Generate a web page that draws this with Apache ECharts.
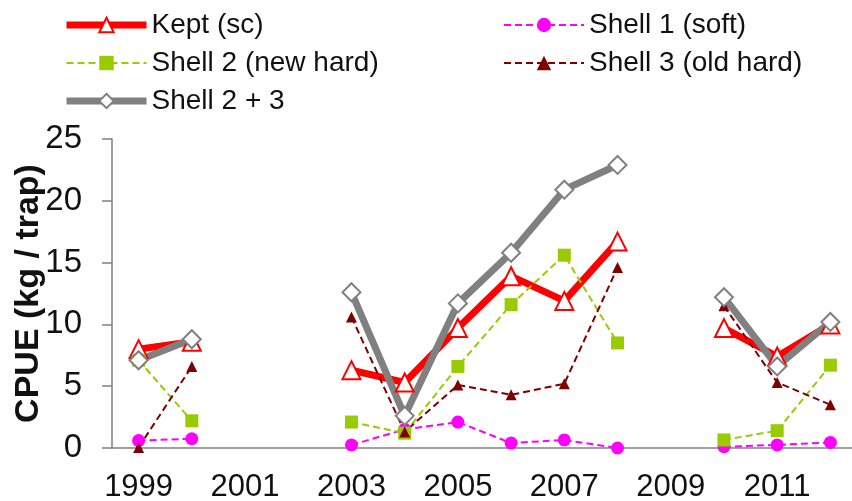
<!DOCTYPE html>
<html>
<head>
<meta charset="utf-8">
</head>
<body style="margin:0">
<div id="container" style="width:852px;height:501px;"></div>
<script src="https://cdn.jsdelivr.net/npm/echarts@6/dist/echarts.min.js"></script>
<script>
// years on the category axis, null = no survey that year
const years = ['1999','2000','2001','2002','2003','2004','2005','2006','2007','2008','2009','2010','2011','2012'];
const kept     = [8.0, 8.6, null, null, 6.3, 5.3, 9.7, 13.9, 11.9, 16.7, null, 9.7, 7.4, 10.0];
const shell1   = [0.6, 0.75, null, null, 0.25, 1.5, 2.1, 0.4, 0.65, 0.0, null, 0.1, 0.25, 0.45];
const shell2   = [7.1, 2.2, null, null, 2.1, 1.2, 6.6, 11.6, 15.6, 8.5, null, 0.65, 1.4, 6.7];
const shell3   = [0.05, 6.6, null, null, 10.6, 1.3, 5.1, 4.3, 5.2, 14.6, null, 11.5, 5.3, 3.5];
const shell23  = [7.1, 8.8, null, null, 12.6, 2.6, 11.7, 15.8, 20.9, 22.9, null, 12.2, 6.6, 10.2];

const font = 'Liberation Sans, Arial, sans-serif';
const chart = echarts.init(document.getElementById('container'));

function dashed(name, data, color, symbol, size) {
    return {
        name: name, type: 'line', data: data,
        symbol: symbol, symbolSize: size,
        lineStyle: { color: color, width: 2, type: [7, 4] },
        itemStyle: { color: color },
        animation: false
    };
}

const legendText = { fontFamily: font, fontSize: 28, color: '#111', lineHeight: 28 };
const thick = { width: 7 };
const thin = { width: 2 };

const option = {
    legend: [
        {
            left: 63, top: 11, orient: 'vertical', padding: 0,
            itemWidth: 80, itemHeight: 18, itemGap: 10,
            textStyle: legendText,
            data: [
                { name: 'Kept (sc)', lineStyle: thick },
                { name: 'Shell 2 (new hard)', lineStyle: thin },
                { name: 'Shell 2 + 3', lineStyle: thick }
            ]
        },
        {
            left: 503, top: 11, orient: 'vertical', padding: 0,
            itemWidth: 80, itemHeight: 18, itemGap: 10,
            textStyle: legendText,
            data: [
                { name: 'Shell 1 (soft)', lineStyle: thin },
                { name: 'Shell 3 (old hard)', lineStyle: thin }
            ]
        }
    ],
    grid: { left: 112, right: -5, top: 139, bottom: 53, outerBoundsMode: 'none', containLabel: false },
    xAxis: {
        type: 'category', data: years, boundaryGap: true,
        axisLine: { lineStyle: { color: '#808080', width: 1.5 } },
        axisTick: { length: 8, lineStyle: { color: '#808080', width: 1.5 } },
        axisLabel: { interval: 1, margin: 24, fontFamily: font, fontSize: 31, color: '#111' }
    },
    yAxis: {
        type: 'value', min: 0, max: 25, interval: 5,
        name: 'CPUE (kg / trap)', nameLocation: 'middle', nameGap: 66, nameRotate: 90,
        nameMoveOverlap: false,
        nameTextStyle: { fontFamily: font, fontSize: 34, fontWeight: 'bold', color: '#111' },
        splitLine: { show: false },
        axisLine: { show: true, lineStyle: { color: '#808080', width: 1.5 } },
        axisTick: { show: true, length: 10, lineStyle: { color: '#808080', width: 1.5 } },
        axisLabel: { margin: 30, fontFamily: font, fontSize: 33, color: '#111' }
    },
    series: [
        {
            name: 'Kept (sc)', type: 'line', data: kept,
            symbol: 'triangle', symbolSize: 18,
            lineStyle: { color: '#ff0000', width: 7 },
            itemStyle: { color: '#ffffff', borderColor: '#ff0000', borderWidth: 2 },
            animation: false
        },
        dashed('Shell 1 (soft)', shell1, '#ff00ff', 'circle', 13),
        dashed('Shell 2 (new hard)', shell2, '#99cc00', 'rect', 13),
        dashed('Shell 3 (old hard)', shell3, '#800000', 'triangle', 11),
        {
            name: 'Shell 2 + 3', type: 'line', data: shell23,
            symbol: 'diamond', symbolSize: 18,
            lineStyle: { color: '#808080', width: 7 },
            itemStyle: { color: '#ffffff', borderColor: '#808080', borderWidth: 2 },
            animation: false
        }
    ]
};
chart.setOption(option);
</script>
</body>
</html>
